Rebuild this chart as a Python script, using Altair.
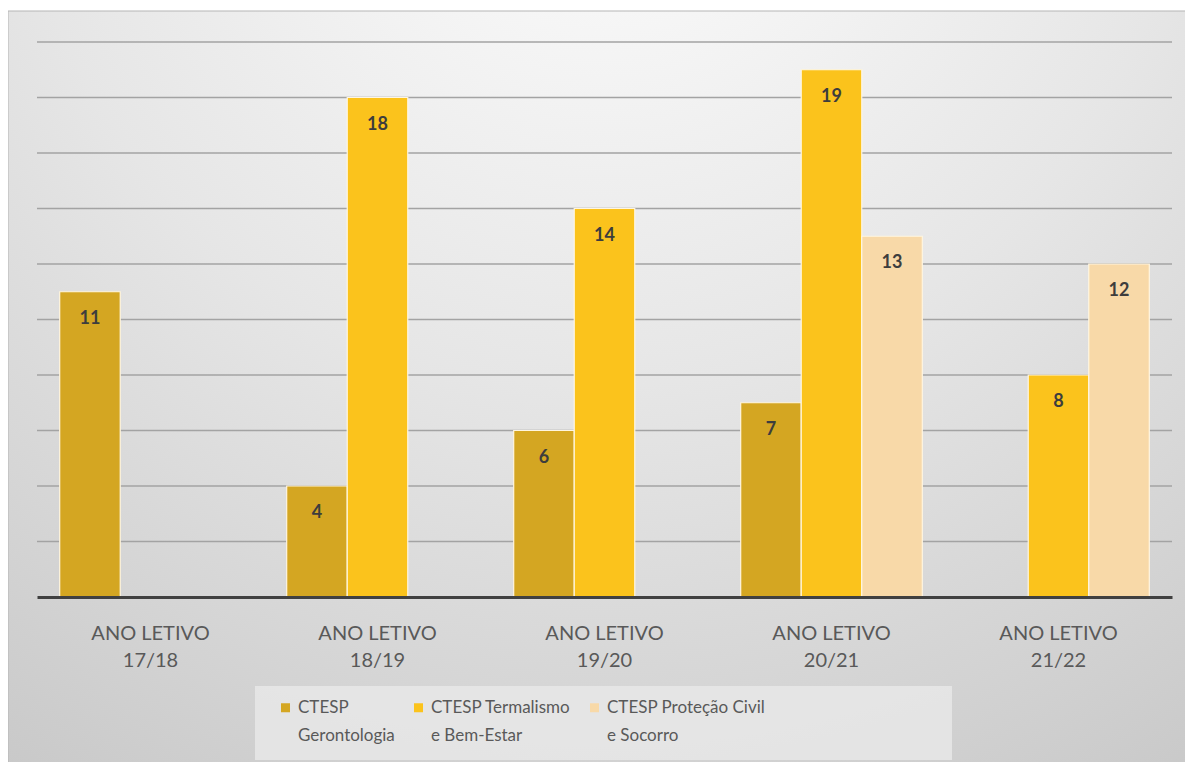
import altair as alt
import pandas as pd

years = ["17/18", "18/19", "19/20", "20/21", "21/22"]
series = ["CTESP Gerontologia", "CTESP Termalismo e Bem-Estar", "CTESP Proteção Civil e Socorro"]
legend_lines = [["CTESP", "Gerontologia"], ["CTESP Termalismo", "e Bem-Estar"], ["CTESP Proteção Civil", "e Socorro"]]
gerontologia = [11, 4, 6, 7, None]
termalismo = [None, 18, 14, 19, 8]
protecao = [None, None, None, 13, 12]
colors = ["#D4A622", "#FBC31C", "#F8D9A8"]
grid_values = [2, 4, 6, 8, 10, 12, 14, 16, 18, 20]

rows = []
for s, vals in zip(series, [gerontologia, termalismo, protecao]):
    for y, v in zip(years, vals):
        if v is not None:
            rows.append({"year": y, "series": s, "value": v})
df = pd.DataFrame(rows)
grid_df = pd.DataFrame({"g": grid_values})

FONT = "Lato"

legend_expr = ""
for s, lines in zip(series, legend_lines):
    legend_expr += f"datum.label == '{s}' ? ['{lines[0]}', '{lines[1]}'] : "
legend_expr += "datum.label"

bg = alt.Chart(pd.DataFrame({"bg": [0]})).mark_rect(
    fill=alt.RadialGradient(
        gradient="radial",
        x1=0.5, y1=0.0, r1=0.0,
        x2=0.5, y2=0.0, r2=1.1,
        stops=[
            alt.GradientStop(offset=0.0, color="#ffffff"),
            alt.GradientStop(offset=0.45, color="#e6e6e6"),
            alt.GradientStop(offset=1.0, color="#c0c0c0"),
        ],
    ),
    stroke="#b5b5b5",
    strokeWidth=1,
).encode(
    x=alt.value(-29), x2=alt.value(1160), y=alt.value(-31), y2=alt.value(730)
)

legend_box = alt.Chart(pd.DataFrame({"lb": [0]})).mark_rect(
    fill="#e8e8e8", opacity=0.85
).encode(
    x=alt.value(218), x2=alt.value(915), y=alt.value(644), y2=alt.value(718)
)

yscale = alt.Scale(domain=[0, 20], nice=False, zero=True)

grid = alt.Chart(grid_df).mark_rule(color="#a3a3a3", strokeWidth=1.6).encode(
    y=alt.Y("g:Q", scale=yscale, axis=None)
)

xscale = alt.Scale(domain=years, paddingInner=0.2, paddingOuter=0.1)
xenc = alt.X(
    "year:N",
    scale=xscale,
    axis=alt.Axis(
        title=None,
        labelAngle=0,
        labelExpr="['ANO LETIVO', datum.label]",
        labelFont=FONT,
        labelFontSize=20,
        labelColor="#595959",
        labelLineHeight=27,
        labelPadding=26,
        ticks=False,
        domainColor="#404040",
        domainWidth=3,
        grid=False,
        zindex=1,
    ),
)
xoff = alt.XOffset("series:N", scale=alt.Scale(domain=series, paddingInner=0.0))

bars = alt.Chart(df).mark_bar(stroke="#fff6e0", strokeWidth=1.2).encode(
    x=xenc,
    xOffset=xoff,
    y=alt.Y("value:Q", scale=yscale, axis=None),
    color=alt.Color(
        "series:N",
        scale=alt.Scale(domain=series, range=colors),
        legend=alt.Legend(
            title=None,
            orient="none",
            legendX=240,
            legendY=657,
            direction="horizontal",
            padding=0,
            symbolType="square",
            symbolSize=81,
            symbolStrokeWidth=0,
            labelFont=FONT,
            labelFontSize=17,
            labelColor="#595959",
            labelLimit=400,
            labelOffset=4,
            labelExpr=legend_expr,
            columnPadding=15,
        ),
    ),
)

labels = alt.Chart(df).mark_text(
    font=FONT, fontWeight="bold", fontSize=18, color="#3d3d3d", baseline="middle", dy=27
).encode(
    x=alt.X("year:N", scale=xscale),
    xOffset=xoff,
    y=alt.Y("value:Q", scale=yscale),
    text=alt.Text("value:Q"),
)

chart = alt.layer(bg, legend_box, grid, bars, labels).properties(
    width=1135,
    height=555,
    padding={"left": 29, "top": 34, "right": 13, "bottom": 165},
    autosize=alt.AutoSizeParams(type="none"),
    background="white",
).configure_view(stroke=None).configure(
    style={"guide-label": {"lineHeight": 28}}
)

chart.save("out.html", embed_options={"renderer": "svg", "actions": False})
